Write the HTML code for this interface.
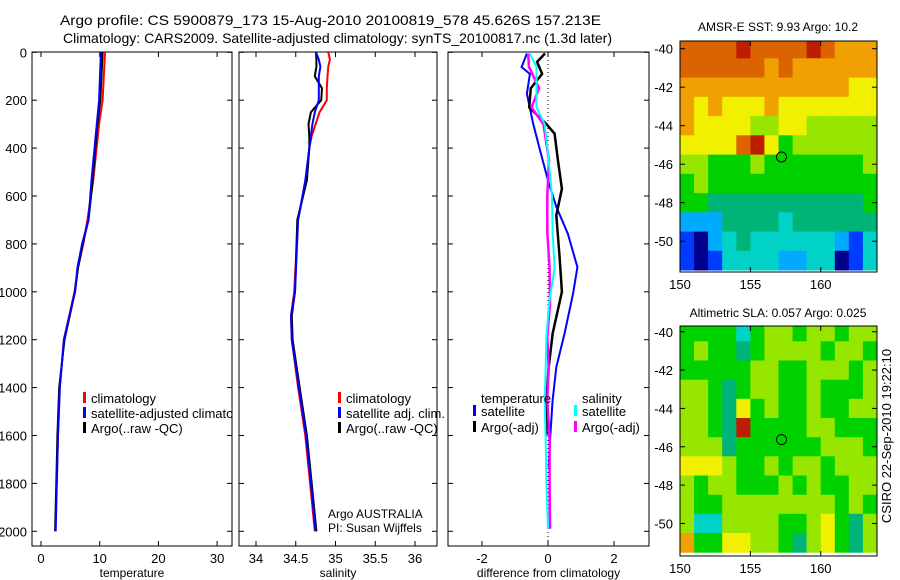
<!DOCTYPE html>
<html><head><meta charset="utf-8"><style>
html,body{margin:0;padding:0;background:#fff}
svg{display:block;font-family:"Liberation Sans",sans-serif}
</style></head><body>
<svg id="fig" width="900" height="580" viewBox="0 0 900 580" xmlns="http://www.w3.org/2000/svg">
<text x="60" y="25" font-size="14" textLength="541" lengthAdjust="spacingAndGlyphs">Argo profile: CS 5900879_173 15-Aug-2010 20100819_578 45.626S 157.213E</text>
<text x="63" y="43" font-size="14" textLength="549" lengthAdjust="spacingAndGlyphs">Climatology: CARS2009. Satellite-adjusted climatology: synTS_20100817.nc (1.3d later)</text>
<text x="778" y="31" font-size="12" text-anchor="middle">AMSR-E SST: 9.93 Argo: 10.2</text>
<text x="778" y="317" font-size="12" text-anchor="middle">Altimetric SLA: 0.057 Argo: 0.025</text>
<text x="0" y="0" font-size="13" text-anchor="middle" transform="translate(891,436) rotate(-90)">CSIRO 22-Sep-2010 19:22:10</text>
<text x="328" y="518" font-size="12">Argo AUSTRALIA</text>
<text x="328" y="532" font-size="12">PI: Susan Wijffels</text>
</svg>
<script>
// ---- data ----
const depthT = [0,200,300,535,700,800,900,1000,1200,1400,1600,1800,2000];
const tempClim = [10.9,10.5,9.9,8.9,7.9,7.2,6.3,5.7,3.9,3.2,2.9,2.7];
const tempSat  = [10.2,9.9,9.5,8.6,8.1,7.0,6.2,5.8,3.9,3.2,2.9,2.7,2.5];
const tempArgo = [10.5,10.1,9.6,8.8,8.1,7.1,6.3,5.8,4.0,3.1,2.8,2.6,2.4];
const depthS = [0,30,60,100,150,200,250,300,350,400,535,700,1000,1100,1200,1400,1600,1800,2000];
const salClim = [34.91,34.93,34.91,34.90,34.89,34.89,34.80,34.75,34.70,34.67,34.63,34.53,34.48,34.44,34.45,34.53,34.62,34.68,34.74];
const salSat  = [34.755,34.79,34.81,34.79,34.79,34.79,34.74,34.71,34.69,34.67,34.62,34.53,34.49,34.44,34.45,34.54,34.63,34.69,34.75];
const salArgo = [34.755,34.76,34.76,34.74,34.83,34.82,34.69,34.66,34.67,34.67,34.64,34.52,34.49,34.45,34.46,34.55,34.64,34.70,34.76];
const depthDT = [5,62,90,173,297,410,535,645,757,897,1007,1175,1315,1453,1620,1733];
const diffTSat = [-0.64,-0.8,-0.55,-0.64,-0.45,-0.24,0,0.25,0.6,0.89,0.76,0.5,0.25,0.14,0.06,0.02];
const depthDA = [5,40,90,150,230,300,340,450,570,680,850,1000,1175,1315,1450,1600];
const diffTArgo = [-0.09,-0.33,-0.18,-0.52,-0.57,-0.05,0.2,0.3,0.42,0.25,0.35,0.42,0.14,0.02,-0.05,-0.05];
const depthDS = [5,60,150,230,300,450,600,750,900,1050,1190,1315,1450,1620,1800,1990];
const diffSSat = [-0.55,-0.35,-0.35,-0.35,-0.1,0.02,0.12,0.14,0.2,0.03,-0.05,-0.07,-0.1,-0.07,-0.05,0];
const diffSArgo = [-0.6,-0.58,-0.27,-0.5,-0.14,0.03,-0.02,-0.02,0.05,0.06,-0.02,0.02,-0.02,0.05,0.05,0.06];
const depthTicks = [0,200,400,600,800,1000,1200,1400,1600,1800,2000];
const tempTicks = [0,10,20,30];
const salTicks = [34,34.5,35,35.5,36];
const salTickLabels = ["34","34.5","35","35.5","36"];
const diffTicks = [-2,0,2];
const lonTicks = [150,155,160];
const latTicks = [-40,-42,-44,-46,-48,-50];
const sstGrid = [
[9,9,9,9,10,9,9,9,9,10,9,8,8,8],
[9,9,9,9,9,9,8,9,8,8,8,8,8,8],
[8,8,8,8,8,8,8,8,8,8,8,8,7,7],
[8,7,8,7,7,7,8,7,7,7,7,7,7,7],
[8,7,7,7,7,6,6,7,7,6,6,6,6,6],
[7,7,7,7,9,10,7,5,6,6,6,6,6,6],
[6,6,5,5,5,6,5,5,5,5,5,5,5,6],
[5,6,5,5,5,5,5,5,5,5,5,5,5,5],
[5,5,4,4,4,4,4,4,4,4,4,4,4,5],
[2,2,2,4,4,4,4,3,4,4,4,4,4,4],
[1,0,2,3,4,3,3,3,3,3,3,2,1,3],
[1,0,1,3,3,3,3,2,2,3,3,0,1,3]];
const slaGrid = [
[5,5,5,5,3,5,6,6,5,6,6,5,6,6],
[5,6,5,5,4,5,6,6,6,6,5,6,6,5],
[5,5,5,5,5,6,6,5,5,6,6,6,5,6],
[6,6,5,4,5,6,6,5,5,6,5,5,5,6],
[6,6,5,4,7,5,6,5,5,6,5,5,6,6],
[6,6,5,4,10,5,5,5,5,6,6,5,5,5],
[6,6,6,4,5,5,5,5,5,5,6,6,6,5],
[7,7,7,6,5,5,6,5,6,6,5,6,6,6],
[6,5,6,6,5,5,5,6,5,6,5,5,6,6],
[6,5,5,6,6,6,6,6,6,6,6,5,6,5],
[6,3,3,6,6,6,6,5,5,6,7,5,4,6],
[8,5,5,7,7,6,6,5,4,6,7,5,4,6]];
const argoLon = 157.213, argoLat = -45.626;

const palette = ['#00008c','#003cff','#00aaff','#00d2c8','#00b478','#00d200','#96e600','#f0f000','#f0a000','#dc6400','#be1e00'];
const NS='http://www.w3.org/2000/svg';
const svg=document.getElementById('fig');
function mk(tag,attrs,parent){const e=document.createElementNS(NS,tag);for(const k in attrs)e.setAttribute(k,attrs[k]);(parent||svg).appendChild(e);return e;}

const yD = d => 52.3 + 0.2395*d;
const xT = t => 41 + 5.87*t;
const xS = s => 256 + 79.5*(s-34);
const xDf = v => 548 + 33*v;

function profile(xf, xs, ds, color, name, clipId, w){
  const pts = xs.map((v,i)=>xf(v).toFixed(1)+','+yD(ds[i]).toFixed(1)).join(' ');
  const p = mk('polyline',{points:pts,fill:'none',stroke:color,'stroke-width':w||2,'clip-path':'url(#'+clipId+')'});
  
  
}
const defs=mk('defs',{});
function clip(id,x,y,w,h){const c=mk('clipPath',{id:id},defs);mk('rect',{x:x,y:y,width:w,height:h},c);}
clip('c1',32,52,200,494);clip('c2',239,52,198,494);clip('c3',448,52,201,494);
clip('cm1',680,41,197,231);clip('cm2',680,326,197,230);

function frame(x0,x1,y0,y1,name){
  const r=mk('rect',{x:x0,y:y0,width:x1-x0,height:y1-y0,fill:'none',stroke:'#000','stroke-width':1});
  
  
}
function tickLabel(x,y,txt,anchor,name,size){
  const t=mk('text',{x:x,y:y,'font-size':size||13,'text-anchor':anchor});
  t.textContent=txt;
  
  
}
const panels=[[32,232,xT,tempTicks,tempTicks.map(String),'temperature','temp'],[239,437,xS,salTicks,salTickLabels,'salinity','sal'],[448,649,xDf,diffTicks,diffTicks.map(String),'difference from climatology','diff']];
panels.forEach(([x0,x1,xf,ticks,labels,xl,nm])=>{
  frame(x0,x1,52,546,nm+'-axes-box');
  ticks.forEach((v,i)=>{const x=xf(v);mk('line',{x1:x,x2:x,y1:546,y2:541,stroke:'#000'});mk('line',{x1:x,x2:x,y1:52,y2:57,stroke:'#000'});
    tickLabel(x,563,labels[i],'middle',nm+'-x-tick-label');});
  depthTicks.forEach(d=>{const y=yD(d);mk('line',{x1:x0,x2:x0+5,y1:y,y2:y,stroke:'#000'});mk('line',{x1:x1-5,x2:x1,y1:y,y2:y,stroke:'#000'});});
  tickLabel((x0+x1)/2,577,xl,'middle',nm+'-x-axis-title',12);
});
depthTicks.forEach(d=>tickLabel(27,yD(d)+5,String(d),'end','depth-tick-label'));
// zero dotted line
mk('line',{x1:548,x2:548,y1:52,y2:546,stroke:'#000','stroke-dasharray':'1,3'});

profile(xT,tempClim,depthT,'#f00','temp-climatology-line','c1');
profile(xT,tempArgo,depthT,'#000','temp-argo-line','c1');
profile(xT,tempSat,depthT,'#00f','temp-satellite-line','c1');
profile(xS,salClim,depthS,'#f00','sal-climatology-line','c2');
profile(xS,salArgo,depthS,'#000','sal-argo-line','c2');
profile(xS,salSat,depthS,'#00f','sal-satellite-line','c2');
profile(xDf,diffTSat,depthDT,'#00f','diff-temp-satellite-line','c3');
profile(xDf,diffTArgo,depthDA,'#000','diff-temp-argo-line','c3',2.5);
profile(xDf,diffSArgo,depthDS,'#f0f','diff-sal-argo-line','c3',2.5);
profile(xDf,diffSSat,depthDS,'#0ff','diff-sal-satellite-line','c3');

function legend(x,y,color,txt,name,clipId){
  if(color){const m=mk('rect',{x:x-1,y:y-11,width:3,height:11,fill:color});}
  const t=mk('text',{x:x+7,y:y,'font-size':13,'clip-path':clipId?'url(#'+clipId+')':''});
  t.textContent=txt;
  
  
}
legend(84,403,'#f00','climatology','legend-climatology','c1');
legend(84,418,'#00f','satellite-adjusted climatology','legend-satellite-adjusted','c1');
legend(84,433,'#000','Argo(..raw -QC)','legend-argo-raw','c1');
legend(339,403,'#f00','climatology','legend-sal-climatology');
legend(339,418,'#00f','satellite adj. clim.','legend-sal-satellite');
legend(339,433,'#000','Argo(..raw -QC)','legend-sal-argo');
legend(474,403,null,'temperature','legend-temperature-header');
legend(474,416,'#00f','satellite','legend-diff-temp-satellite');
legend(474,432,'#000','Argo(-adj)','legend-diff-temp-argo');
legend(575,403,null,'salinity','legend-salinity-header');
legend(575,416,'#0ff','satellite','legend-diff-sal-satellite');
legend(575,432,'#f0f','Argo(-adj)','legend-diff-sal-argo');

function map(grid,top,bottom,latTop,latBot,name,clipId){
  const xL=lon=>680+(lon-150)*14.07;
  const yL=lat=>top+(latTop-lat)*(bottom-top)/(latTop-latBot);
  const g=mk('g',{'clip-path':'url(#'+clipId+')'});
  
  
  grid.forEach((row,r)=>row.forEach((v,c)=>{
    const lat=-39.5-r, lon=150+c;
    const x=xL(lon), y=yL(lat);
    const cell=mk('rect',{x:x.toFixed(1),y:y.toFixed(1),width:(xL(lon+1)-x+0.5).toFixed(1),height:(yL(lat-1)-y+0.5).toFixed(1),fill:palette[v]},g);
    
    
  }));
  frame(680,877,top,bottom,name+'-box');
  lonTicks.forEach(l=>{const x=xL(l);mk('line',{x1:x,x2:x,y1:bottom,y2:bottom-5,stroke:'#000'});mk('line',{x1:x,x2:x,y1:top,y2:top+5,stroke:'#000'});
    tickLabel(x,bottom+17,String(l),'middle',name+'-lon-tick-label');});
  latTicks.forEach(l=>{const y=yL(l);mk('line',{x1:680,x2:685,y1:y,y2:y,stroke:'#000'});mk('line',{x1:872,x2:877,y1:y,y2:y,stroke:'#000'});
    tickLabel(673,y+5,String(l),'end',name+'-lat-tick-label');});
  const c=mk('circle',{cx:xL(argoLon),cy:yL(argoLat),r:5,fill:'none',stroke:'#000','stroke-width':1});
  
  
}
map(sstGrid,41,272,-39.6,-51.6,'sst-map','cm1');
map(slaGrid,326,556,-39.7,-51.7,'sla-map','cm2');
</script>
</body></html>
